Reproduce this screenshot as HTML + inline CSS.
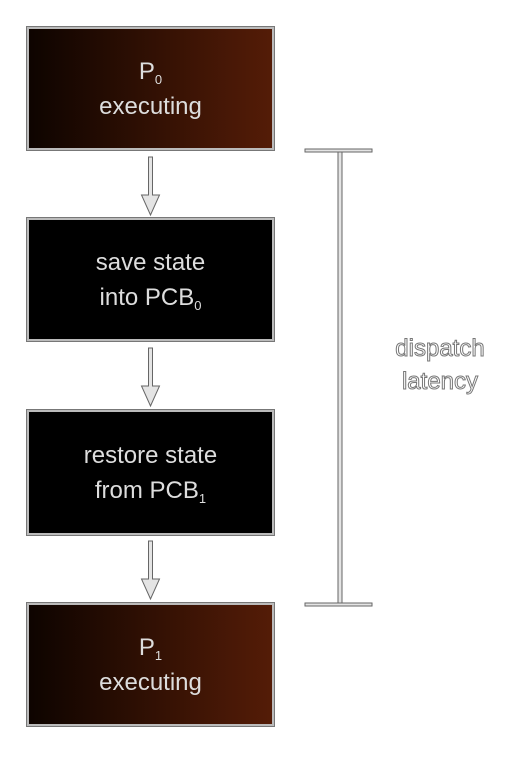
<!DOCTYPE html>
<html><head><style>
body{margin:0;width:516px;height:758px;background:#fff;position:relative;overflow:hidden;font-family:"Liberation Sans",sans-serif}
.b{position:absolute;left:27px;width:247px;border:2px solid #bbb;outline:1px solid #777;color:#ddd;text-align:center;font-size:24px;line-height:35px;box-sizing:border-box;display:flex;flex-direction:column;justify-content:center}
.g{background:linear-gradient(to right,#0e0400,#541c07)}
.k{background:#000}
sub{font-size:13px;vertical-align:-5px;line-height:0}
.lab{position:absolute;left:378px;top:332px;width:124px;text-align:center;font-size:24px;line-height:33px;color:#fff;-webkit-text-stroke:1px #777}
</style></head><body>
<div class="b g" style="top:27px;height:123px"><div>P<sub>0</sub><br>executing</div></div>
<div class="b k" style="top:218px;height:123px"><div>save state<br>into PCB<sub>0</sub></div></div>
<div class="b k" style="top:410px;height:125px"><div>restore state<br>from PCB<sub>1</sub></div></div>
<div class="b g" style="top:603px;height:123px"><div>P<sub>1</sub><br>executing</div></div>
<svg width="516" height="758" style="position:absolute;left:0;top:0">
<g fill="#e4e4e4" stroke="#666" stroke-width="1">
<path d="M148.5 157h4v38h7l-9 20-9-20h7z"/>
<path d="M148.5 348h4v38h7l-9 20-9-20h7z"/>
<path d="M148.5 541h4v38h7l-9 20-9-20h7z"/>
<rect x="338" y="151" width="4" height="453"/>
<rect x="305" y="149" width="67" height="3"/>
<rect x="305" y="603" width="67" height="3"/>
</g>
</svg>
<div class="lab">dispatch<br>latency</div>
</body></html>
